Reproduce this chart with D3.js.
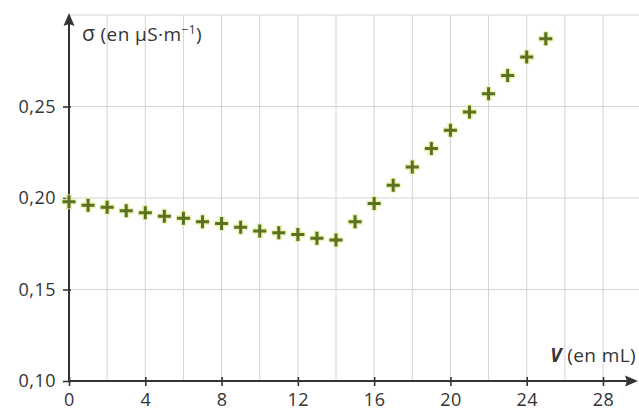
<!DOCTYPE html>
<html>
<head>
<meta charset="utf-8">
<script src="https://cdn.jsdelivr.net/npm/d3@7"></script>
<style>
  html, body { margin: 0; padding: 0; background: #fff; }
  svg { display: block; }
  text { font-family: "Open Sans", "Noto Sans", sans-serif; fill: #333; }
</style>
</head>
<body>
<svg id="chart" width="639" height="412"></svg>
<script>
// Titrage conductimétrique : conductivité en fonction du volume versé
const volumes = [0, 1, 2, 3, 4, 5, 6, 7, 8, 9, 10, 11, 12, 13, 14, 15, 16, 17, 18, 19, 20, 21, 22, 23, 24, 25];
const sigma = [0.198, 0.196, 0.195, 0.193, 0.192, 0.190, 0.189, 0.187, 0.186, 0.184, 0.182, 0.181, 0.180, 0.178, 0.177,
               0.187, 0.197, 0.207, 0.217, 0.227, 0.237, 0.247, 0.257, 0.267, 0.277, 0.287];
const xTicks = [0, 4, 8, 12, 16, 20, 24, 28];
const xGrid = [2, 4, 6, 8, 10, 12, 14, 16, 18, 20, 22, 24, 26, 28];
const yTicks = [0.10, 0.15, 0.20, 0.25];
const yGrid = [0.15, 0.20, 0.25, 0.30];

const svg = d3.select("#chart");
const x = d3.scaleLinear().domain([0, 28]).range([69, 603]);
const y = d3.scaleLinear().domain([0.10, 0.30]).range([381, 15]);
const fmt = v => d3.format(".2f")(v).replace(".", ",");

// Grille
svg.append("g").selectAll("line").data(xGrid).join("line")
  .attr("x1", d => x(d)).attr("x2", d => x(d))
  .attr("y1", y(0.30)).attr("y2", y(0.10))
  .attr("stroke", "#d4d4d4").attr("stroke-width", 1);
svg.append("g").selectAll("line").data(yGrid).join("line")
  .attr("x1", x(0)).attr("x2", 639)
  .attr("y1", d => y(d)).attr("y2", d => y(d))
  .attr("stroke", "#d4d4d4").attr("stroke-width", 1);

// Axe des abscisses
const xAxis = svg.append("g").attr("transform", `translate(0,${y(0.10)})`)
  .call(d3.axisBottom(x).tickValues(xTicks).tickSize(5).tickSizeOuter(0).tickFormat(d3.format("d")));
xAxis.select(".domain").remove();
xAxis.selectAll(".tick line").attr("y1", -4).attr("y2", 5).attr("stroke", "#333").attr("stroke-width", 1.6);
xAxis.selectAll(".tick text").attr("y", 12).attr("font-size", 18).attr("letter-spacing", 0.5).attr("fill", "#333")
  .style("font-family", "'Open Sans', sans-serif");

// Axe des ordonnées
const yAxis = svg.append("g").attr("transform", `translate(${x(0)},0)`)
  .call(d3.axisLeft(y).tickValues(yTicks).tickSize(6).tickSizeOuter(0).tickFormat(fmt));
yAxis.select(".domain").remove();
yAxis.selectAll(".tick line").attr("x1", -6).attr("x2", 2).attr("stroke", "#333").attr("stroke-width", 1.6);
yAxis.selectAll(".tick text").attr("x", -13).attr("font-size", 18).attr("letter-spacing", 0.5).attr("fill", "#333")
  .style("font-family", "'Open Sans', sans-serif");

// Lignes des axes avec flèches
svg.append("line").attr("x1", x(0)).attr("x2", 628).attr("y1", y(0.10)).attr("y2", y(0.10))
  .attr("stroke", "#333").attr("stroke-width", 2);
svg.append("path").attr("d", `M638,${y(0.10)} L625,${y(0.10) - 5.5} L627,${y(0.10)} L625,${y(0.10) + 5.5} Z`).attr("fill", "#333");
svg.append("line").attr("x1", x(0)).attr("x2", x(0)).attr("y1", y(0.10)).attr("y2", 24)
  .attr("stroke", "#333").attr("stroke-width", 2);
svg.append("path").attr("d", `M${x(0)},13 L${x(0) - 5.5},26 L${x(0)},24 L${x(0) + 5.5},26 Z`).attr("fill", "#333");

// Titres des axes
const yt = svg.append("text").attr("x", 82).attr("y", 41).attr("font-size", 19).attr("letter-spacing", 0.4);
yt.append("tspan").attr("font-size", 21).text("σ");
yt.append("tspan").text(" (en µS·m");
yt.append("tspan").attr("dy", -7).attr("font-size", 12).text("−1");
yt.append("tspan").attr("dy", 7).text(")");

const xt = svg.append("text").attr("x", 636).attr("y", 362).attr("font-size", 19).attr("letter-spacing", 0.4).attr("text-anchor", "end");
xt.append("tspan").attr("font-weight", "bold").attr("font-style", "italic").text("V");
xt.append("tspan").text(" (en mL)");

// Points de mesure (croix)
const pts = volumes.map((v, i) => ({ v, s: sigma[i] }));
const cross = (d, r) => {
  const cx = x(d.v), cy = y(d.s);
  return `M${cx - r},${cy} H${cx + r} M${cx},${cy - r} V${cy + r}`;
};
svg.append("g").selectAll("path").data(pts).join("path")
  .attr("d", d => cross(d, 7.5)).attr("stroke", "#e6efa0").attr("stroke-width", 6).attr("fill", "none").attr("opacity", 0.8);
svg.append("g").selectAll("path").data(pts).join("path")
  .attr("d", d => cross(d, 6.5)).attr("stroke", "#5a7220").attr("stroke-width", 3).attr("fill", "none");
</script>
</body>
</html>
